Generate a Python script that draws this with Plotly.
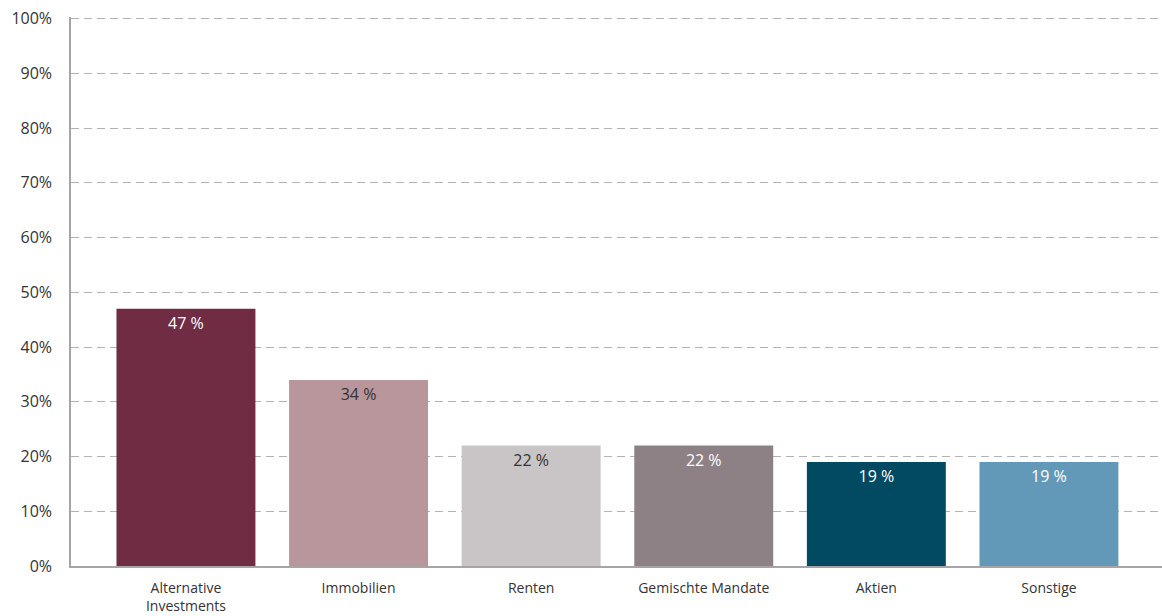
import plotly.graph_objects as go

categories = ["Alternative<br>Investments", "Immobilien", "Renten", "Gemischte Mandate", "Aktien", "Sonstige"]
values = [47, 34, 22, 22, 19, 19]
bar_colors = ["#6f2c43", "#b8969c", "#c9c5c6", "#8d8185", "#024a62", "#6399b8"]
text_colors = ["white", "#333333", "#333333", "white", "white", "white"]
y_ticks = [0, 10, 20, 30, 40, 50, 60, 70, 80, 90, 100]

font_family = "Open Sans"

fig = go.Figure()
fig.add_trace(go.Bar(
    x=list(range(len(categories))),
    y=values,
    marker=dict(color=bar_colors, line=dict(width=0)),
    width=0.805,
    text=[f"{v} %" for v in values],
    textposition="inside",
    insidetextanchor="end",
    textangle=0,
    insidetextfont=dict(family=font_family, size=16, color=text_colors),
    hoverinfo="skip",
))

fig.update_layout(
    width=1162,
    height=616,
    margin=dict(l=71, r=0, t=17, b=50),
    paper_bgcolor="white",
    plot_bgcolor="white",
    showlegend=False,
    font=dict(family=font_family, color="#333333"),
    xaxis=dict(
        tickmode="array",
        tickvals=list(range(len(categories))),
        ticktext=categories,
        range=[-0.666, 5.655],
        showgrid=False,
        showline=True,
        linecolor="#a8a3a5",
        linewidth=1.5,
        ticks="",
        ticklabelstandoff=8,
        tickfont=dict(size=14, color="#333333"),
        zeroline=False,
    ),
    yaxis=dict(
        range=[0, 100.3],
        tickvals=y_ticks,
        ticktext=[f"{t}%" for t in y_ticks],
        showgrid=True,
        gridcolor="#b5b0b2",
        griddash="8px,5px",
        gridwidth=1.3,
        showline=True,
        linecolor="#a8a3a5",
        linewidth=1.5,
        ticks="outside",
        ticklen=14,
        tickcolor="rgba(0,0,0,0)",
        tickfont=dict(size=16, color="#333333"),
        zeroline=False,
    ),
)

# remove the default page margin so the figure sits at the window corner
fig.write_html("out.html", config={"displayModeBar": False},
               post_script="document.body.style.margin='0';")
